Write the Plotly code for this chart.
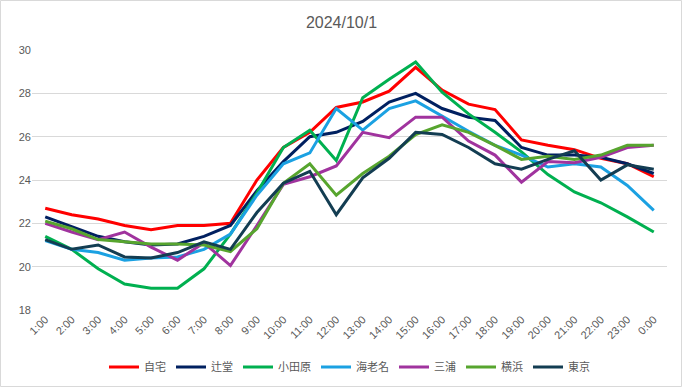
import plotly.graph_objects as go

hours = ["1:00","2:00","3:00","4:00","5:00","6:00","7:00","8:00","9:00","10:00","11:00","12:00",
         "13:00","14:00","15:00","16:00","17:00","18:00","19:00","20:00","21:00","22:00","23:00","0:00"]

jitaku   = [22.7,22.4,22.2,21.9,21.7,21.9,21.9,22.0,24.0,25.5,26.2,27.35,27.6,28.1,29.2,28.15,27.5,27.25,25.85,25.6,25.4,25.0,24.75,24.15]
tsujido  = [22.3,21.85,21.4,21.15,21.0,21.05,21.4,21.9,23.5,24.85,26.0,26.2,26.7,27.6,28.0,27.3,26.9,26.75,25.5,25.15,25.15,25.05,24.75,24.3]
odawara  = [21.4,20.8,19.9,19.2,19.0,19.0,19.9,21.5,23.4,25.5,26.3,24.9,27.8,28.65,29.45,28.05,27.05,26.2,25.3,24.25,23.45,22.95,22.3,21.6]
ebina    = [21.2,20.8,20.65,20.3,20.4,20.45,20.8,21.5,23.3,24.75,25.25,27.3,26.3,27.3,27.65,26.95,26.25,25.6,25.15,24.6,24.75,24.6,23.75,22.6]
miura    = [22.0,21.6,21.25,21.6,20.9,20.3,21.1,20.05,21.9,23.8,24.15,24.65,26.2,25.95,26.9,26.9,25.8,25.15,23.9,24.85,24.8,25.05,25.5,25.6]
yokohama = [22.1,21.75,21.25,21.15,21.05,21.05,21.0,20.7,21.75,23.85,24.75,23.3,24.3,25.1,26.1,26.55,26.2,25.6,24.95,25.1,24.95,25.15,25.6,25.6]
tokyo    = [21.25,20.8,21.0,20.45,20.4,20.65,21.15,20.8,22.5,23.85,24.4,22.4,24.1,25.0,26.2,26.1,25.5,24.75,24.5,24.95,25.35,24.0,24.7,24.5]

series = [
    ("自宅", jitaku, "#FF0000"),
    ("辻堂", tsujido, "#002060"),
    ("小田原", odawara, "#00B050"),
    ("海老名", ebina, "#1BA1E2"),
    ("三浦", miura, "#A0339E"),
    ("横浜", yokohama, "#57A52E"),
    ("東京", tokyo, "#133D52"),
]

fig = go.Figure()
for name, vals, col in series:
    fig.add_trace(go.Scatter(x=hours, y=vals, name=name, mode="lines",
                             line=dict(color=col, width=3)))

W, H = 683, 388
ml, mr, mt, mb = 32, 16, 50, 78
pw, ph = W - ml - mr, H - mt - mb

fig.update_layout(
    width=W, height=H,
    margin=dict(l=ml, r=mr, t=mt, b=mb, autoexpand=False),
    paper_bgcolor="white", plot_bgcolor="white",
    font=dict(family="Liberation Sans, Arial, Noto Sans CJK JP", color="#595959", size=11),
    title=dict(text="2024/10/1", x=0.5, xanchor="center", y=1 - 22 / H, yanchor="middle",
               font=dict(size=16, color="#595959")),
    showlegend=True,
    legend=dict(orientation="h", x=0.5, xanchor="center", y=(310 - 367) / ph, yanchor="middle",
                font=dict(size=11, family="Noto Sans CJK JP, Liberation Sans", color="#595959"),
                itemwidth=30, tracegroupgap=0),
    xaxis=dict(type="category", tickangle=-45, showgrid=False, zeroline=False, automargin=False,
               showline=False, ticks="", tickfont=dict(size=11, color="#595959"),
               range=[-0.5, len(hours) - 0.5]),
    yaxis=dict(range=[18, 30], dtick=2, showgrid=True, gridcolor="#D9D9D9", gridwidth=1,
               automargin=False, zeroline=False, showline=False, ticks="",
               tickfont=dict(size=11, color="#595959")),
)

fig.add_shape(type="rect", xref="paper", yref="paper",
              x0=(0.5 - ml) / pw, x1=(W - 1.5 - ml) / pw,
              y0=-(mb - 1.5) / ph, y1=1 + (mt - 0.5) / ph,
              line=dict(color="#D9D9D9", width=1), fillcolor="rgba(0,0,0,0)", layer="below")

fig.write_html("out.html", config={"displayModeBar": False},
               post_script="document.body.style.margin='0';document.body.style.overflow='hidden';")
